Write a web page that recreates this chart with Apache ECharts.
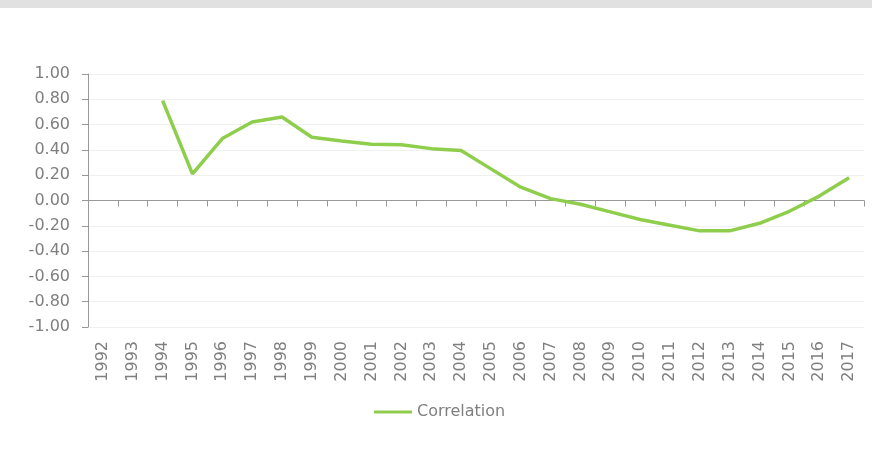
<!DOCTYPE html>
<html>
<head>
<meta charset="utf-8">
<style>
  html, body { margin: 0; padding: 0; background: #ffffff; }
  #chart { width: 872px; height: 449px; }
</style>
<script src="https://cdn.jsdelivr.net/npm/echarts@6/dist/echarts.min.js"></script>
</head>
<body>
<div id="chart"></div>
<script>
// Yearly correlation series, 1992–2017 (no values for the first two years)
const years = ['1992','1993','1994','1995','1996','1997','1998','1999','2000','2001','2002','2003','2004',
               '2005','2006','2007','2008','2009','2010','2011','2012','2013','2014','2015','2016','2017'];
const correlation = [null, null, 0.79, 0.21, 0.49, 0.62, 0.66, 0.50, 0.47, 0.445, 0.44, 0.41, 0.395,
                     0.25, 0.105, 0.015, -0.03, -0.09, -0.15, -0.195, -0.24, -0.24, -0.18, -0.085, 0.035, 0.18];
const seriesName = 'Correlation';
const yMin = -1, yMax = 1, yStep = 0.2;

const FONT = 'Verdana, "DejaVu Sans", sans-serif';
const GREY_TEXT = '#7f7f7f';
const AXIS_GREY = '#999999';
const GREEN = '#8fce4c';

const chart = echarts.init(document.getElementById('chart'), null, { renderer: 'canvas' });

chart.setOption({
  animation: false,
  backgroundColor: '#ffffff',
  graphic: [{
    type: 'rect',
    left: 0, top: 0,
    shape: { width: 872, height: 8 },
    style: { fill: '#e1e1e1' },
    silent: true
  }],
  grid: { left: 88, right: 8, top: 74, bottom: 122, containLabel: false },
  legend: {
    data: [seriesName],
    left: 374,
    top: 404,
    padding: 0,
    icon: 'rect',
    itemWidth: 38,
    itemHeight: 3,
    itemGap: 10,
    textStyle: { color: GREY_TEXT, fontSize: 16, fontFamily: FONT }
  },
  xAxis: [{
    // axis drawn on the zero line with downward ticks
    type: 'category',
    data: years,
    boundaryGap: true,
    axisLine: { onZero: true, lineStyle: { color: AXIS_GREY, width: 1 } },
    axisTick: { show: true, interval: 0, length: 6, inside: false, lineStyle: { color: AXIS_GREY } },
    axisLabel: { show: false },
    splitLine: { show: false }
  }, {
    // year labels along the bottom edge
    type: 'category',
    data: years,
    position: 'bottom',
    boundaryGap: true,
    axisLine: { show: false, onZero: false },
    axisTick: { show: false },
    axisLabel: {
      interval: 0,
      rotate: 90,
      margin: 14,
      color: GREY_TEXT,
      fontSize: 16,
      fontFamily: FONT
    },
    splitLine: { show: false }
  }],
  yAxis: {
    type: 'value',
    min: yMin,
    max: yMax,
    interval: yStep,
    axisLine: { show: true, lineStyle: { color: AXIS_GREY } },
    axisTick: { show: true, length: 6, lineStyle: { color: AXIS_GREY } },
    axisLabel: {
      margin: 18,
      color: GREY_TEXT,
      fontSize: 16,
      fontFamily: FONT,
      formatter: v => v.toFixed(2)
    },
    splitLine: { show: true, lineStyle: { color: '#f0f0f0', width: 1 } }
  },
  series: [{
    name: seriesName,
    type: 'line',
    xAxisIndex: 0,
    data: correlation,
    showSymbol: false,
    symbol: 'none',
    connectNulls: false,
    lineStyle: { color: GREEN, width: 3.5 },
    itemStyle: { color: GREEN }
  }]
});
</script>
</body>
</html>
